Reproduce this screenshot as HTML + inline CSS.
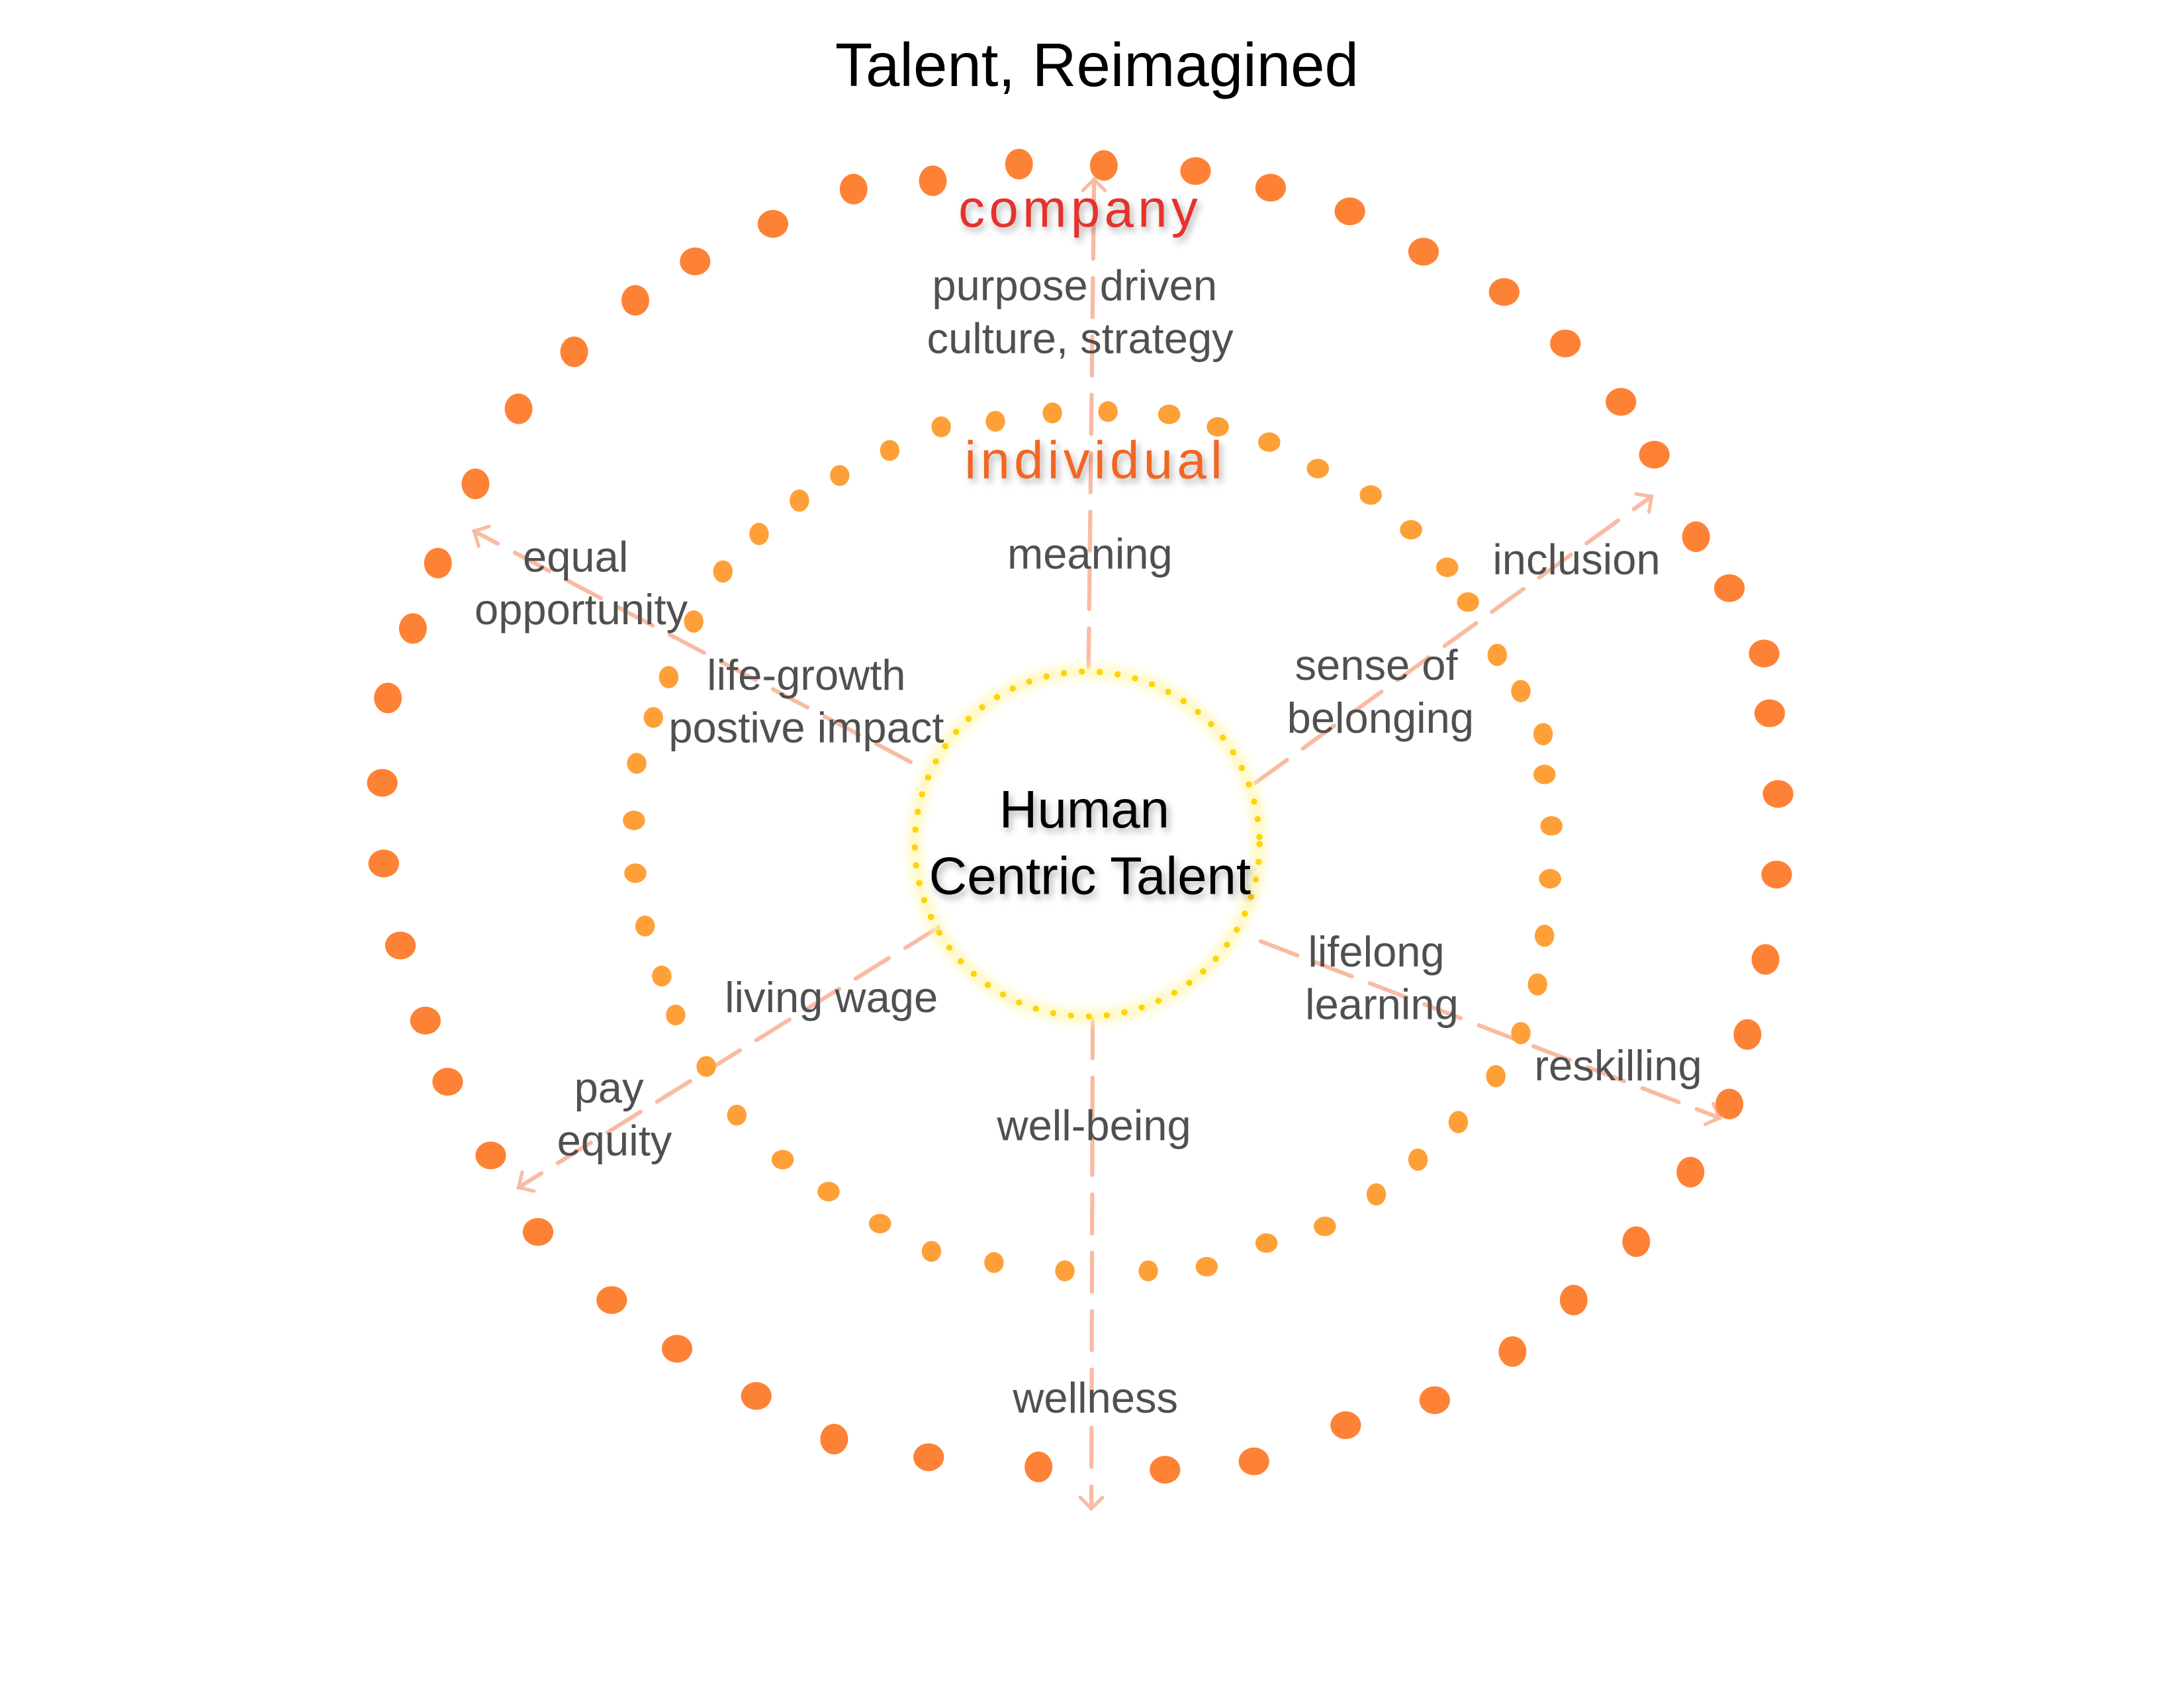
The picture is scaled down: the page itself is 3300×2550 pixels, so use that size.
<!DOCTYPE html>
<html><head><meta charset="utf-8"><style>
html,body{margin:0;padding:0;background:#fff;}
svg{display:block;}
text{font-family:"Liberation Sans","DejaVu Sans",sans-serif;}
.l{fill:#505050;font-size:31px;text-anchor:middle;}
</style></head><body>
<svg width="3300" height="2550" viewBox="0 0 1571 1214" xmlns="http://www.w3.org/2000/svg">
<defs>
<filter id="sh" x="-20%" y="-50%" width="140%" height="200%"><feDropShadow dx="2" dy="3" stdDeviation="2.5" flood-color="#000" flood-opacity="0.3"/></filter>
<filter id="gl" x="-20%" y="-20%" width="140%" height="140%"><feGaussianBlur stdDeviation="3"/></filter>
<marker id="ah" viewBox="0 0 20 20" refX="10" refY="10" markerWidth="20" markerHeight="20" markerUnits="userSpaceOnUse" orient="auto">
<path d="M2,2 L10,10 L2,18" fill="none" stroke="#f9bba3" stroke-width="2.5" stroke-linecap="round"/></marker>
</defs>
<g stroke="#f9bba3" stroke-width="3" stroke-dasharray="28 14" stroke-linecap="round" fill="none" marker-end="url(#ah)">
<line x1="783" y1="480" x2="787" y2="129"/>
<line x1="786" y1="733" x2="785" y2="1085"/>
<line x1="903" y1="563" x2="1188" y2="357"/>
<line x1="655" y1="548" x2="341" y2="382"/>
<line x1="675" y1="667" x2="373" y2="854"/>
<line x1="907" y1="677" x2="1237" y2="804"/>
</g>
<g fill="#fe8236">
<ellipse cx="733" cy="118" rx="10" ry="11"/><ellipse cx="794" cy="119" rx="10" ry="11"/><ellipse cx="860" cy="123" rx="11" ry="10"/><ellipse cx="914" cy="135" rx="11" ry="10"/><ellipse cx="971" cy="152" rx="11" ry="10"/><ellipse cx="1024" cy="181" rx="11" ry="10"/><ellipse cx="1082" cy="210" rx="11" ry="10"/><ellipse cx="1126" cy="247" rx="11" ry="10"/><ellipse cx="1166" cy="289" rx="11" ry="10"/><ellipse cx="1190" cy="327" rx="11" ry="10"/><ellipse cx="1220" cy="386" rx="10" ry="11"/><ellipse cx="1244" cy="423" rx="11" ry="10"/><ellipse cx="1269" cy="470" rx="11" ry="10"/><ellipse cx="1273" cy="513" rx="11" ry="10"/><ellipse cx="1279" cy="571" rx="11" ry="10"/><ellipse cx="1278" cy="629" rx="11" ry="10"/><ellipse cx="1270" cy="690" rx="10" ry="11"/><ellipse cx="1257" cy="744" rx="10" ry="11"/><ellipse cx="1244" cy="794" rx="10" ry="11"/><ellipse cx="1216" cy="843" rx="10" ry="11"/><ellipse cx="1177" cy="893" rx="10" ry="11"/><ellipse cx="1132" cy="935" rx="10" ry="11"/><ellipse cx="1088" cy="972" rx="10" ry="11"/><ellipse cx="1032" cy="1007" rx="11" ry="10"/><ellipse cx="968" cy="1025" rx="11" ry="10"/><ellipse cx="902" cy="1051" rx="11" ry="10"/><ellipse cx="838" cy="1057" rx="11" ry="10"/><ellipse cx="747" cy="1055" rx="10" ry="11"/><ellipse cx="668" cy="1048" rx="11" ry="10"/><ellipse cx="600" cy="1035" rx="10" ry="11"/><ellipse cx="544" cy="1004" rx="11" ry="10"/><ellipse cx="487" cy="970" rx="11" ry="10"/><ellipse cx="440" cy="935" rx="11" ry="10"/><ellipse cx="387" cy="886" rx="11" ry="10"/><ellipse cx="353" cy="831" rx="11" ry="10"/><ellipse cx="322" cy="778" rx="11" ry="10"/><ellipse cx="306" cy="734" rx="11" ry="10"/><ellipse cx="288" cy="680" rx="11" ry="10"/><ellipse cx="276" cy="621" rx="11" ry="10"/><ellipse cx="275" cy="563" rx="11" ry="10"/><ellipse cx="279" cy="502" rx="10" ry="11"/><ellipse cx="297" cy="452" rx="10" ry="11"/><ellipse cx="315" cy="405" rx="10" ry="11"/><ellipse cx="342" cy="348" rx="10" ry="11"/><ellipse cx="373" cy="294" rx="10" ry="11"/><ellipse cx="413" cy="253" rx="10" ry="11"/><ellipse cx="457" cy="216" rx="10" ry="11"/><ellipse cx="500" cy="188" rx="11" ry="10"/><ellipse cx="556" cy="161" rx="11" ry="10"/><ellipse cx="614" cy="136" rx="10" ry="11"/><ellipse cx="671" cy="130" rx="10" ry="11"/>
</g>
<g fill="#fea037">
<ellipse cx="677" cy="307" rx="7" ry="7.5"/><ellipse cx="716" cy="303" rx="7" ry="7.5"/><ellipse cx="757" cy="297" rx="7" ry="7.5"/><ellipse cx="797" cy="296" rx="7" ry="7.5"/><ellipse cx="841" cy="298" rx="8" ry="7"/><ellipse cx="876" cy="307" rx="8" ry="7"/><ellipse cx="913" cy="318" rx="8" ry="7"/><ellipse cx="948" cy="337" rx="8" ry="7"/><ellipse cx="986" cy="356" rx="8" ry="7"/><ellipse cx="1015" cy="381" rx="8" ry="7"/><ellipse cx="1041" cy="408" rx="8" ry="7"/><ellipse cx="1056" cy="433" rx="8" ry="7"/><ellipse cx="1077" cy="471" rx="7" ry="8"/><ellipse cx="1094" cy="497" rx="7" ry="8"/><ellipse cx="1110" cy="528" rx="7" ry="8"/><ellipse cx="1111" cy="557" rx="8" ry="7"/><ellipse cx="1116" cy="594" rx="8" ry="7"/><ellipse cx="1115" cy="632" rx="8" ry="7"/><ellipse cx="1111" cy="673" rx="7" ry="8"/><ellipse cx="1106" cy="708" rx="7" ry="8"/><ellipse cx="1094" cy="743" rx="7" ry="8"/><ellipse cx="1076" cy="774" rx="7" ry="8"/><ellipse cx="1049" cy="807" rx="7" ry="8"/><ellipse cx="1020" cy="834" rx="7" ry="8"/><ellipse cx="990" cy="859" rx="7" ry="8"/><ellipse cx="953" cy="882" rx="8" ry="7"/><ellipse cx="911" cy="894" rx="8" ry="7"/><ellipse cx="868" cy="911" rx="8" ry="7"/><ellipse cx="826" cy="914" rx="7" ry="7.5"/><ellipse cx="766" cy="914" rx="7" ry="7.5"/><ellipse cx="715" cy="908" rx="7" ry="7.5"/><ellipse cx="670" cy="900" rx="7" ry="7.5"/><ellipse cx="633" cy="880" rx="8" ry="7"/><ellipse cx="596" cy="857" rx="8" ry="7"/><ellipse cx="563" cy="834" rx="8" ry="7"/><ellipse cx="530" cy="802" rx="7" ry="7.5"/><ellipse cx="508" cy="767" rx="7" ry="7.5"/><ellipse cx="486" cy="730" rx="7" ry="7.5"/><ellipse cx="476" cy="702" rx="7" ry="7.5"/><ellipse cx="464" cy="666" rx="7" ry="7.5"/><ellipse cx="457" cy="628" rx="8" ry="7"/><ellipse cx="456" cy="590" rx="8" ry="7"/><ellipse cx="458" cy="549" rx="7" ry="7.5"/><ellipse cx="470" cy="516" rx="7" ry="7.5"/><ellipse cx="481" cy="487" rx="7" ry="8"/><ellipse cx="499" cy="447" rx="7" ry="8"/><ellipse cx="520" cy="411" rx="7" ry="8"/><ellipse cx="546" cy="384" rx="7" ry="8"/><ellipse cx="575" cy="360" rx="7" ry="8"/><ellipse cx="604" cy="342" rx="7" ry="7.5"/><ellipse cx="640" cy="324" rx="7" ry="7.5"/>
</g>
<circle cx="782" cy="607" r="124" fill="none" stroke="#fff6b0" stroke-width="10" filter="url(#gl)" opacity="0.7"/>
<circle cx="782" cy="607" r="124" fill="none" stroke="#ffd400" stroke-width="4.5" stroke-dasharray="0 12.9" stroke-linecap="round"/>
<text x="789" y="62" text-anchor="middle" font-size="44" fill="#000">Talent, Reimagined</text>
<text x="777" y="163" text-anchor="middle" font-size="38" fill="#e5332c" letter-spacing="3" filter="url(#sh)">company</text>
<text x="788" y="344" text-anchor="middle" font-size="38" fill="#f26624" letter-spacing="3" filter="url(#sh)">individual</text>
<text x="780" y="595" text-anchor="middle" font-size="38" fill="#000" filter="url(#sh)">Human</text>
<text x="784" y="643" text-anchor="middle" font-size="38" fill="#000" filter="url(#sh)">Centric Talent</text>
<g class="l">
<text class="l" x="773" y="216">purpose driven</text>
<text class="l" x="777" y="254">culture, strategy</text>
<text class="l" x="784" y="409">meaning</text>
<text class="l" x="414" y="411">equal</text>
<text class="l" x="418" y="449">opportunity</text>
<text class="l" x="1134" y="413">inclusion</text>
<text class="l" x="580" y="496">life-growth</text>
<text class="l" x="580" y="534">postive impact</text>
<text class="l" x="990" y="489">sense of</text>
<text class="l" x="993" y="527">belonging</text>
<text class="l" x="990" y="695">lifelong</text>
<text class="l" x="994" y="733">learning</text>
<text class="l" x="598" y="728">living wage</text>
<text class="l" x="1164" y="777">reskilling</text>
<text class="l" x="438" y="793">pay</text>
<text class="l" x="442" y="831">equity</text>
<text class="l" x="787" y="820">well-being</text>
<text class="l" x="788" y="1016">wellness</text>
</g>
</svg>
</body></html>
